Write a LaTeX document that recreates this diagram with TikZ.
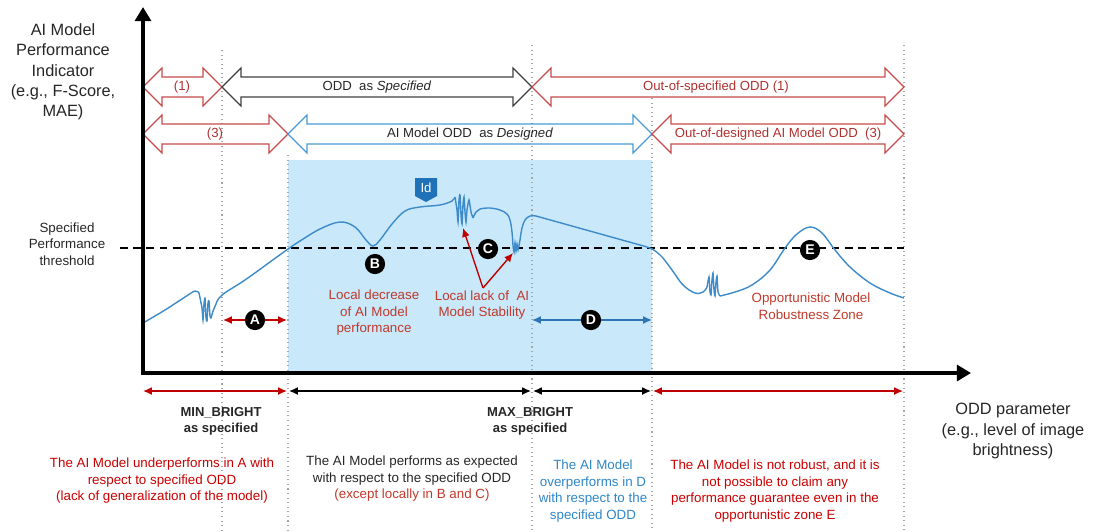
\documentclass[tikz,border=0pt]{standalone}
\usepackage{fontspec}
\setmainfont{Liberation Sans}
\usetikzlibrary{arrows.meta}
\definecolor{lbfill}{HTML}{C9E8FA}
\definecolor{curveblue}{HTML}{3D8BC9}
\definecolor{arrred}{HTML}{C84B4B}
\definecolor{arrblue}{HTML}{4A9BD4}
\definecolor{arrgray}{HTML}{404040}
\definecolor{redtxt}{HTML}{C0392B}
\definecolor{labred}{HTML}{B03030}
\definecolor{bluetxt}{HTML}{2E86C8}
\definecolor{idblue}{HTML}{1F72B8}
\definecolor{darkred}{HTML}{C00000}
\definecolor{dblue}{HTML}{2E75B6}
\newcommand\dblarr[4]{%
  \draw[#4, line width=0.7pt, line join=miter] (#1,#3) -- (#1+19,#3-19) -- (#1+19,#3-10) -- (#2-19,#3-10) -- (#2-19,#3-19) -- (#2,#3) -- (#2-19,#3+19) -- (#2-19,#3+10) -- (#1+19,#3+10) -- (#1+19,#3+19) -- cycle;}
\begin{document}
\begin{tikzpicture}[x=0.02cm,y=-0.02cm,
  lbl/.style={font=\fontsize{7.6}{9.4}\selectfont, align=center, inner sep=0pt},
  albl/.style={font=\fontsize{7.5}{9}\selectfont, inner sep=0pt},
  big/.style={font=\fontsize{9.3}{11.6}\selectfont, align=center, inner sep=0pt, text=black!85},
  bold/.style={font=\bfseries\fontsize{7.4}{9.2}\selectfont, align=center, inner sep=0pt, text=black!85},
  circ/.style={circle, fill=black, text=white, font=\bfseries\fontsize{8}{8}\selectfont, minimum size=11.5pt, inner sep=0pt},
  curve/.style={curveblue, line width=0.8pt},
  vdot/.style={black!35, dotted, line width=0.6pt},
  dimarr/.style={line width=0.8pt, {Latex[length=5pt,width=4.5pt]}-{Latex[length=5pt,width=4.5pt]}},
  axis/.style={line width=2.4pt, -{Triangle[length=8pt,width=9pt]}}]
\useasboundingbox (0,0) rectangle (1094,531);
% shaded region
\fill[lbfill] (288,160) rectangle (652,371);
% dotted verticals
\draw[vdot] (222,50) -- (222,531);
\draw[vdot] (288,155) -- (288,531);
\draw[vdot] (532,45) -- (532,531);
\draw[vdot] (652,98) -- (652,531);
\draw[vdot] (904,45) -- (904,531);
% threshold
\draw[line width=0.9pt, dash pattern=on 4.5pt off 3pt] (120,248) -- (904,248);
% top double arrows
\dblarr{143}{222}{87}{arrred}
\dblarr{222}{532}{87}{arrgray}
\dblarr{532}{904}{87}{arrred}
\dblarr{143}{288}{134}{arrred}
\dblarr{288}{652}{134}{arrblue}
\dblarr{652}{904}{134}{arrred}
\node[albl, text=labred] (r1a) at (182,87) {(1)};
\node[albl, text=black!85] (r1b) at (377,87) {ODD\ \ as \textit{Specified}};
\node[albl, text=labred] (r1c) at (716,87) {Out-of-specified ODD (1)};
\node[albl, text=labred] (r2a) at (215,134) {(3)};
\node[albl, text=black!85] (r2b) at (470,134) {AI Model ODD\ \ as \textit{Designed}};
\node[albl, text=labred] (r2c) at (778,134) {Out-of-designed AI Model ODD\ \ (3)};
% curve
\draw[curve] plot[smooth, tension=0.6] coordinates {(143,323) (165,310) (185,297) (195,291) (199,293)};
\draw[curve] plot[smooth, tension=0.35] coordinates {(199,293) (202,308) (203,320) (204,304) (205,298) (206,318) (207,321) (208,303) (209,301) (210,316) (211,318) (213,311) (216,304)};
\draw[curve] plot[smooth, tension=0.6] coordinates {(216,304) (222,295) (245,280) (270,262) (288,249) (300,241) (320,229) (340,222) (355,227) (366,240) (373,246) (380,240) (392,224) (405,211) (420,207) (440,205) (452,201) (455,197)};
\draw[curve] plot[smooth, tension=0.35] coordinates {(455,197) (457,210) (458,222) (459,200) (460,195) (461,215) (462,224) (463,205) (464,197) (465,212) (466,222) (467,210) (469,200) (471,212) (473,218)};
\draw[curve] plot[smooth, tension=0.6] coordinates {(473,218) (476,212) (480,209) (490,208) (500,210) (507,214) (510,220) (512,232) (513,246)};
\draw[curve] plot[smooth, tension=0.35] coordinates {(513,246) (514,252) (515,243) (516,251) (517,244) (518,250) (520,240)};
\draw[curve] plot[smooth, tension=0.6] coordinates {(520,240) (522,228) (525,220) (530,216) (536,216)};
\draw[curve] (536,216) -- (640,245);
\draw[curve] plot[smooth, tension=0.6] coordinates {(640,245) (652,249) (662,257) (672,270) (683,285) (695,293) (703,292) (707,287)};
\draw[curve] plot[smooth, tension=0.35] coordinates {(707,287) (709,277) (710,292) (711,295) (712,280) (713,273) (714,290) (715,296) (716,282) (717,276) (718,292) (720,296)};
\draw[curve] plot[smooth, tension=0.6] coordinates {(720,296) (735,292) (752,285) (770,270) (785,248) (797,234) (810,227) (822,233) (835,250) (850,267) (870,283) (890,293) (904,298)};
% Id tag
\fill[idblue] (415,178) -- (437,178) -- (437,196) -- (426,202) -- (415,196) -- cycle;
\node[text=white, font=\fontsize{7.5}{8}\selectfont, inner sep=0pt] (id) at (426,188) {Id};
% C arrows
\coordinate (cstart) at (483,288);
\coordinate (c1) at (463,228);
\coordinate (c2) at (513,253);
\draw[darkred, line width=0.8pt, -{Latex[length=5pt,width=4.5pt]}] (cstart) -- (c1);
\draw[darkred, line width=0.8pt, -{Latex[length=5pt,width=4.5pt]}] (cstart) -- (c2);
% A and D arrows
\coordinate (a1) at (223,320); \coordinate (a2) at (287,320);
\draw[dimarr, darkred] (a1) -- (a2);
\coordinate (d1) at (532,320); \coordinate (d2) at (652,320);
\draw[dimarr, dblue] (d1) -- (d2);
% circles
\node[circ] (A) at (255,320) {A};
\node[circ] (B) at (375,264) {B};
\node[circ] (C) at (488,249) {C};
\node[circ] (D) at (591,320) {D};
\node[circ] (E) at (810,250) {E};
% labels in plot
\node[lbl, text=redtxt] (locdec) at (374,313) {Local decrease\\of AI Model\\performance};
\node[lbl, text=redtxt] (loclack) at (482,305) {Local lack of\ \ AI\\Model\ Stability};
\node[lbl, text=redtxt] (opp) at (811,306) {Opportunistic Model\\Robustness Zone};
% axes
\draw[axis] (143,375) -- (143,7);
\draw[axis] (141,373) -- (971,373);
% axis labels
\node[big] (ylab) at (63,72) {AI Model\\Performance\\Indicator\\(e.g., F-Score,\\MAE)};
\node[lbl, text=black!85] (thr) at (67,244) {Specified\\Performance\\threshold};
\node[big] (xlab) at (1013,431) {ODD parameter\\(e.g., level of image\\brightness)};
% bottom dimension arrows
\coordinate (b0) at (143,391); \coordinate (b1) at (287,391);
\coordinate (b2) at (289,391); \coordinate (b3) at (531,391);
\coordinate (b4) at (533,391); \coordinate (b5) at (651,391);
\coordinate (b6) at (653,391); \coordinate (b7) at (903,391);
\draw[dimarr, darkred] (b0) -- (b1);
\draw[dimarr, black] (b2) -- (b3);
\draw[dimarr, black] (b4) -- (b5);
\draw[dimarr, darkred] (b6) -- (b7);
\node[bold] (minb) at (221,421) {MIN\_BRIGHT\\as specified};
\node[bold] (maxb) at (530,421) {MAX\_BRIGHT\\as specified};
% bottom explanations
\node[lbl, text=darkred!85!red] (t1) at (162,481) {The AI Model underperforms in A with\\respect to specified ODD\\(lack of generalization of the model)};
\node[lbl, text=black!85] (t2) at (412,479) {The AI Model performs as expected\\with respect to the specified ODD\\\textcolor{redtxt}{(except locally in B and C)}};
\node[lbl, text=bluetxt] (t3) at (593,491) {The AI Model\\overperforms in D\\with respect to the\\specified ODD};
\node[lbl, text=darkred!85!red] (t4) at (775,491) {The AI Model is not robust, and it is\\not possible to claim any\\performance guarantee even in the\\opportunistic zone E};
\end{tikzpicture}
\end{document}
